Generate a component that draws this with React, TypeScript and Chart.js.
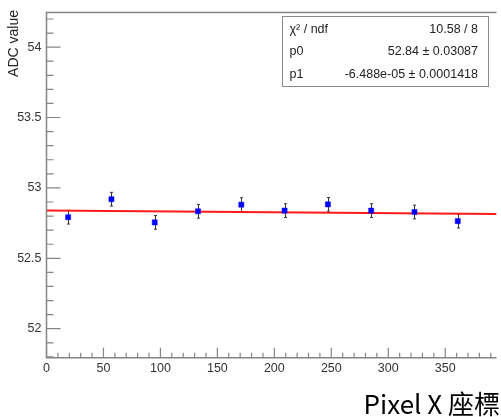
import React, { useEffect, useRef } from "react";
import { Chart, registerables } from "chart.js";

Chart.register(...registerables);

// Data
const PIXEL_X = [19, 57, 95, 133, 171, 209, 247, 285, 323, 361];
const ADC = [52.792, 52.92, 52.755, 52.834, 52.881, 52.839, 52.883, 52.839, 52.829, 52.764];
const ADC_ERR = [0.0486, 0.0486, 0.0486, 0.0486, 0.0486, 0.0486, 0.0486, 0.0486, 0.0486, 0.0486];

// Fit (pol1) parameters
const P0 = 52.84;
const P1 = -6.488e-5;
const FIT_RANGE = [0, 395];

// Stat box text
const STAT_LABELS = ["χ² / ndf", "p0", "p1"];
const STAT_VALUES = ["10.58 / 8", "52.84 ± 0.03087", "-6.488e-05 ± 0.0001418"];

const X_TITLE = "Pixel X 座標";
const Y_TITLE = "ADC value";

const X_MIN = 0;
const X_MAX = 395;
const Y_MIN = 51.794;
const Y_MAX = 54.246;

const AXIS_COLOR = "#858585";
const LABEL_FONT = "'Liberation Sans', Arial, sans-serif";

const rootPlugin = {
  id: "rootDecor",
  beforeDatasetsDraw(chart: any) {
    const { ctx, scales } = chart;
    const x = scales.x;
    const y = scales.y;
    ctx.save();
    ctx.strokeStyle = "#333";
    ctx.lineWidth = 1;
    PIXEL_X.forEach((xv, i) => {
      const px = Math.round(x.getPixelForValue(xv)) + 0.5;
      const top = y.getPixelForValue(ADC[i] + ADC_ERR[i]);
      const bot = y.getPixelForValue(ADC[i] - ADC_ERR[i]);
      ctx.beginPath();
      ctx.moveTo(px, top);
      ctx.lineTo(px, bot);
      ctx.moveTo(px - 1.5, top);
      ctx.lineTo(px + 1.5, top);
      ctx.moveTo(px - 1.5, bot);
      ctx.lineTo(px + 1.5, bot);
      ctx.stroke();
    });
    ctx.restore();
  },
  afterDraw(chart: any) {
    const { ctx, chartArea: a, scales } = chart;
    const x = scales.x;
    const y = scales.y;
    ctx.save();
    // frame lines (left, bottom, top)
    ctx.strokeStyle = AXIS_COLOR;
    ctx.lineWidth = 1.5;
    ctx.beginPath();
    ctx.moveTo(a.right, a.top);
    ctx.lineTo(a.left, a.top);
    ctx.lineTo(a.left, a.bottom);
    ctx.lineTo(a.right, a.bottom);
    ctx.stroke();

    // ticks inside
    ctx.lineWidth = 1.2;
    ctx.beginPath();
    for (let k = 518; k <= 542; k++) {
      const v = k / 10;
      const py = y.getPixelForValue(v);
      const len = k % 5 === 0 ? 14 : 7;
      ctx.moveTo(a.left, py);
      ctx.lineTo(a.left + len, py);
    }
    for (let v = 0; v <= 390; v += 10) {
      const px = x.getPixelForValue(v);
      const len = v % 50 === 0 ? 10 : 5;
      ctx.moveTo(px, a.bottom);
      ctx.lineTo(px, a.bottom - len);
    }
    ctx.stroke();

    // stat box
    const bx = 282.5, by = 16.5, bw = 206, bh = 70;
    ctx.fillStyle = "#fff";
    ctx.fillRect(bx, by, bw, bh);
    ctx.strokeStyle = "#8a8a8a";
    ctx.lineWidth = 1;
    ctx.strokeRect(bx, by, bw, bh);
    ctx.fillStyle = "#222";
    ctx.font = "12.5px 'Liberation Sans', Arial, sans-serif";
    ctx.textBaseline = "middle";
    const rows = [29.5, 52, 74.5];
    STAT_LABELS.forEach((t, i) => {
      ctx.textAlign = "left";
      ctx.fillText(t, 289.5, rows[i]);
      ctx.textAlign = "right";
      ctx.fillText(STAT_VALUES[i], 478, rows[i]);
    });

    // axis titles
    ctx.fillStyle = "#222";
    ctx.font = "14px 'Liberation Sans', Arial, sans-serif";
    ctx.save();
    ctx.translate(14.5, 10);
    ctx.rotate(-Math.PI / 2);
    ctx.textAlign = "right";
    ctx.textBaseline = "middle";
    ctx.fillText(Y_TITLE, 0, 0);
    ctx.restore();

    ctx.fillStyle = "#000";
    ctx.font = "26px 'Noto Sans CJK TC', 'Noto Sans', sans-serif";
    ctx.textAlign = "right";
    ctx.textBaseline = "alphabetic";
    ctx.fillText(X_TITLE, 500, 413.5);
    ctx.restore();
  },
};

export default function App() {
  const ref = useRef<HTMLCanvasElement | null>(null);
  useEffect(() => {
    document.body.style.margin = "0";
    const canvas = ref.current;
    if (!canvas) return;
    const chart = new Chart(canvas, {
      type: "scatter",
      data: {
        datasets: [
          {
            label: "data",
            data: PIXEL_X.map((xv, i) => ({ x: xv, y: ADC[i] })),
            pointStyle: "rect",
            pointRadius: 3.6,
            pointBackgroundColor: "#0000ff",
            pointBorderColor: "#0000ff",
            pointBorderWidth: 0.5,
            showLine: false,
            order: 1,
          },
          {
            label: "fit",
            data: FIT_RANGE.map((xv) => ({ x: xv, y: P0 + P1 * xv })),
            showLine: true,
            borderColor: "#ff1a1a",
            borderWidth: 2,
            pointRadius: 0,
            order: 2,
          },
        ],
      },
      options: {
        responsive: false,
        animation: false,
        devicePixelRatio: 1,
        layout: { padding: { top: 7.5, right: 0, left: 0, bottom: 0 } },
        plugins: { legend: { display: false }, tooltip: { enabled: false } },
        scales: {
          x: {
            type: "linear",
            min: X_MIN,
            max: X_MAX,
            grid: { display: false, drawTicks: false },
            border: { display: false },
            ticks: {
              stepSize: 50,
              includeBounds: false,
              autoSkip: false,
              maxRotation: 0,
              padding: 3,
              color: "#333",
              font: { family: LABEL_FONT, size: 12.5 },
              callback: (v: any) => String(+Number(v).toFixed(2)),
            },
            afterFit: (s: any) => {
              s.height = 59.3;
            },
          },
          y: {
            type: "linear",
            min: Y_MIN,
            max: Y_MAX,
            grid: { display: false, drawTicks: false },
            border: { display: false },
            ticks: {
              stepSize: 0.5,
              includeBounds: false,
              autoSkip: false,
              padding: 5,
              color: "#333",
              font: { family: LABEL_FONT, size: 12.5 },
              callback: (v: any) => String(+Number(v).toFixed(2)),
            },
            afterFit: (s: any) => {
              s.width = 46.5;
            },
          },
        },
      },
      plugins: [rootPlugin],
    });
    return () => chart.destroy();
  }, []);
  return (
    <div style={{ width: 501, height: 417, background: "#fff" }}>
      <canvas ref={ref} width={501} height={417} style={{ display: "block" }} />
    </div>
  );
}
